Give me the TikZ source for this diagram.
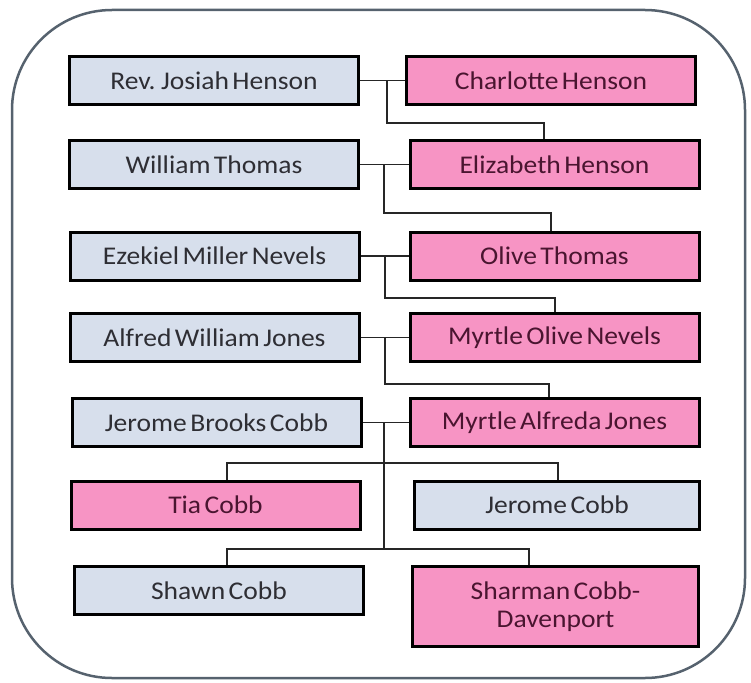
\documentclass[tikz,border=0pt]{standalone}
\usepackage{fontspec}
\setmainfont{Carlito}[FakeStretch=1.08,WordSpace=0.55]
\definecolor{boxblue}{HTML}{D7DFEC}
\definecolor{boxpink}{HTML}{F794C4}
\definecolor{txtblue}{HTML}{2E2E34}
\definecolor{txtpink}{HTML}{4A1530}
\definecolor{frame}{HTML}{56626E}
\begin{document}
\begin{tikzpicture}[x=1pt,y=-1pt,
  person/.style={draw=black,line width=3pt,minimum height=48pt,minimum width=289pt,inner sep=2pt,font=\fontsize{25.5}{28}\selectfont,align=center},
  male/.style={person,fill=boxblue,text=txtblue},
  female/.style={person,fill=boxpink,text=txtpink},
  link/.style={draw=black!85,line width=1.4pt}]
\useasboundingbox (0,0) rectangle (751,682);
\draw[frame,line width=2.5pt,rounded corners=100pt] (12,10) rectangle (745,678);
% row 1
\node[male]   (rev)  at (214,80.5) {Rev. Josiah Henson};
\node[female] (char) at (551,80.5) {Charlotte Henson};
% row 2
\node[male]   (will) at (214,164.5) {William Thomas};
\node[female] (eliz) at (554.5,164.5) {Elizabeth Henson};
% row 3
\node[male]   (ezek) at (214.5,256) {Ezekiel Miller Nevels};
\node[female] (oliv) at (554.5,256) {Olive Thomas};
% row 4
\node[male]   (alfr) at (214.5,337.5) {Alfred William Jones};
\node[female] (myro) at (554.5,337.5) {Myrtle Olive Nevels};
% row 5
\node[male]   (jbc)  at (216.5,422.5) {Jerome Brooks Cobb};
\node[female] (myra) at (554.5,422.5) {Myrtle Alfreda Jones};
% row 6
\node[female] (tia)  at (215.5,505) {Tia Cobb};
\node[male,minimum width=285pt] (jc) at (557,505) {Jerome Cobb};
% row 7
\node[male]   (shawn) at (219,590.5) {Shawn Cobb};
\node[female,minimum width=286pt,minimum height=80pt] (sharm) at (555.5,606.5) {Sharman Cobb-\\Davenport};
% couples
\draw[link] (rev.east) -- (char.west);
\draw[link] (will.east) -- (eliz.west);
\draw[link] (ezek.east) -- (oliv.west);
\draw[link] (alfr.east) -- (myro.west);
\draw[link] (jbc.east) -- (myra.west);
\coordinate (c1) at (387,80.5);
\coordinate (c2) at (384,164.5);
\coordinate (c3) at (385,256);
\coordinate (c4) at (385,337.5);
\coordinate (c5) at (384,422.5);
% descent
\draw[link] (c1) -- ++(0,42.5) -| ([xshift=-10.5pt]eliz.north);
\draw[link] (c2) -- ++(0,48.5) -| ([xshift=-3.5pt]oliv.north);
\draw[link] (c3) -- ++(0,42) -| ([xshift=0.5pt]myro.north);
\draw[link] (c4) -- ++(0,46.5) -| ([xshift=-5.5pt]myra.north);
\coordinate (k1) at (384,463);
\coordinate (k2) at (384,549);
\draw[link] (c5) -- (k2);
\draw[link] ([xshift=11.5pt]tia.north) |- (k1) -| ([xshift=1pt]jc.north);
\draw[link] ([xshift=8pt]shawn.north) |- (k2) -| ([xshift=-26.5pt]sharm.north);
\end{tikzpicture}
\end{document}
